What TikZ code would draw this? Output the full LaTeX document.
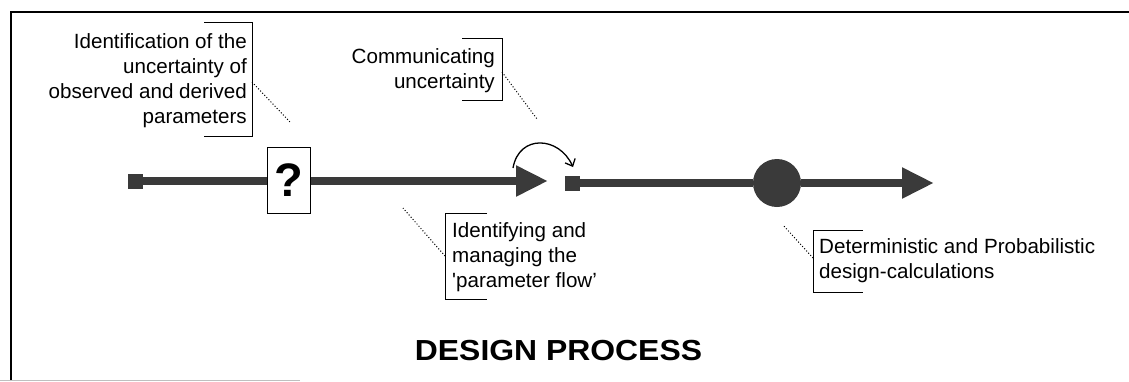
\documentclass[tikz,border=0pt]{standalone}
\usepackage{fontspec}
\usepackage{graphicx}
\setmainfont{Liberation Sans}
\usetikzlibrary{arrows.meta,calc}
\definecolor{flow}{HTML}{3A3A3A}
\begin{document}
\begin{tikzpicture}[x=1pt,y=-1pt,
  lbl/.style={font=\fontsize{20.6}{25}\selectfont, inner sep=0pt},
  brk/.style={line width=0.9pt},
  leader/.style={line width=1pt, dash pattern=on 1pt off 2pt},
  flowline/.style={draw=flow, line width=8pt},
  endsq/.style={fill=flow, minimum width=15pt, minimum height=15pt, inner sep=0pt},
  qbox/.style={draw, line width=1pt, fill=white, minimum width=43pt, minimum height=66pt, inner sep=0pt,
    font=\fontsize{47}{47}\bfseries\selectfont},
  bigdot/.style={circle, fill=flow, minimum size=48pt, inner sep=0pt},
  flowtip/.style={-{Triangle[length=32pt,width=29pt]}},
  hoparrow/.style={line width=1.3pt, -{Straight Barb[length=6pt,width=11pt]}}
]
\useasboundingbox (0,0) rectangle (1129,381);
% frame
\draw[line width=1.6pt] (11,381) -- (11,12) -- (1129,12);
\draw[line width=1pt, black!25] (0,380) -- (300,380);

% flow elements
\node[endsq] (s1) at (135.5,181) {};
\node[qbox] (q) at (288.5,180) {?};
\coordinate (t1) at (548,181);
\node[endsq] (s2) at (572.5,183) {};
\node[bigdot] (c) at (777,183) {};
\coordinate (t2) at (934,183);

\draw[flowline] (s1.east) -- (q.west |- s1);
\draw[flowline, flowtip] (q.east |- t1) -- (t1);
\draw[flowline] (s2.east) -- (c.west);
\draw[flowline, flowtip] (c.east) -- (t2);

\coordinate (ca) at (513,168);
\coordinate (cb) at (573,167);
\draw[hoparrow] (ca) .. controls (519,134) and (559,136) .. (cb);

% labels
\node[lbl, anchor=north east, align=right] (l1) at (247,33)
  {Identification of the\\uncertainty of\\observed and derived\\parameters};
\draw[brk] (204,22) -- (252,22) -- (252,136) -- (204,136);
\coordinate (l1b) at (252,82);
\coordinate (l1e) at (290,122);
\draw[leader] (l1b) -- (l1e);

\node[lbl, anchor=north east, align=right] (l2) at (495,48)
  {Communicating\\uncertainty};
\draw[brk] (462,38) -- (502,38) -- (502,100) -- (462,100);
\coordinate (l2b) at (502,72);
\coordinate (l2e) at (537,119);
\draw[leader] (l2b) -- (l2e);

\node[lbl, anchor=north west, align=left] (l3) at (452,222)
  {Identifying and\\managing the\\\textquotesingle parameter flow’};
\draw[brk] (487,213) -- (445,213) -- (445,299) -- (487,299);
\coordinate (l3b) at (445,256);
\coordinate (l3e) at (403,208);
\draw[leader] (l3b) -- (l3e);

\node[lbl, anchor=north west, align=left] (l4) at (819,238)
  {Deterministic and Probabilistic\\design-calculations};
\draw[brk] (863,230) -- (813,230) -- (813,292) -- (863,292);
\coordinate (l4b) at (813,258);
\coordinate (l4e) at (783,225);
\draw[leader] (l4b) -- (l4e);

% title
\node[font=\fontsize{29}{30}\bfseries\selectfont, anchor=base, inner sep=0pt] (title) at (558.5,360)
  {\scalebox{1.1}[1]{DESIGN PROCESS}};
\end{tikzpicture}
\end{document}
